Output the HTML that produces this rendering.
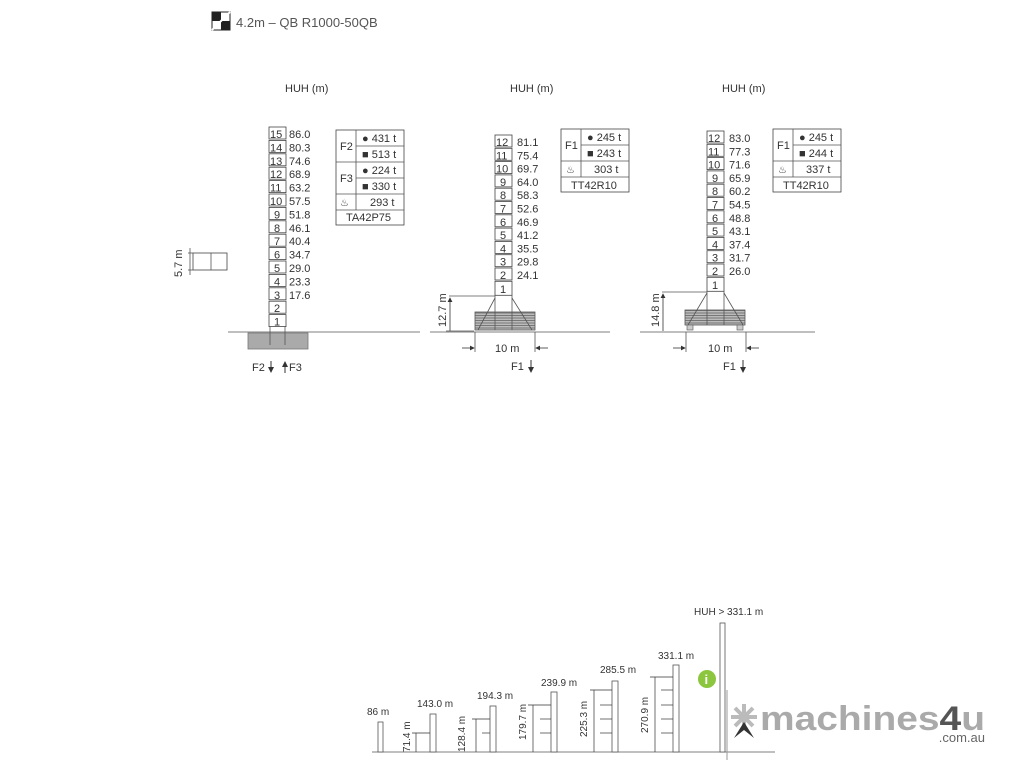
<!DOCTYPE html>
<html><head><meta charset="utf-8"><style>
body{margin:0;background:#fff;}
svg{display:block;font-family:"Liberation Sans","DejaVu Sans",sans-serif;}
text{fill:#333;}
.t{font-size:11px;}
.b{fill:#fff;stroke:#444;stroke-width:0.8;}
.l{stroke:#555;stroke-width:0.8;fill:none;}
</style></head><body>
<svg width="1024" height="768" viewBox="0 0 1024 768">
<defs>
<pattern id="h" width="4" height="2.5" patternUnits="userSpaceOnUse"><rect width="4" height="2.5" fill="#bbb"/><line x1="0" y1="0.5" x2="4" y2="0.5" stroke="#666" stroke-width="0.8"/></pattern>
<marker id="a" markerWidth="6" markerHeight="6" refX="5" refY="3" orient="auto"><path d="M0,0 L6,3 L0,6z" fill="#333"/></marker>
</defs>
<!-- header -->
<rect x="212" y="12" width="18" height="18" fill="#fff" stroke="#222" stroke-width="1"/>
<path d="M212,12 h9 v9 h-9z M221,21 h9 v9 h-9z" fill="#222"/>
<line x1="212" y1="30" x2="230" y2="12" stroke="#fff" stroke-width="2"/>
<text x="236" y="27" style="font-size:13px;fill:#555">4.2m – QB  R1000-50QB</text>

<text x="285" y="92" class="t">HUH (m)</text>
<text x="510" y="92" class="t">HUH (m)</text>
<text x="722" y="92" class="t">HUH (m)</text>

<!-- Tower 1 -->
<g class="t">
<rect class="b" x="269" y="127" width="17" height="12"/><text x="270" y="138">15</text><text x="289" y="138">86.0</text>
<rect class="b" x="269" y="140.4" width="17" height="12"/><text x="270" y="151.4">14</text><text x="289" y="151.4">80.3</text>
<rect class="b" x="269" y="153.8" width="17" height="12"/><text x="270" y="164.8">13</text><text x="289" y="164.8">74.6</text>
<rect class="b" x="269" y="167.2" width="17" height="12"/><text x="270" y="178.2">12</text><text x="289" y="178.2">68.9</text>
<rect class="b" x="269" y="180.6" width="17" height="12"/><text x="270" y="191.6">11</text><text x="289" y="191.6">63.2</text>
<rect class="b" x="269" y="194" width="17" height="12"/><text x="270" y="205">10</text><text x="289" y="205">57.5</text>
<rect class="b" x="269" y="207.4" width="17" height="12"/><text x="274" y="218.4">9</text><text x="289" y="218.4">51.8</text>
<rect class="b" x="269" y="220.8" width="17" height="12"/><text x="274" y="231.8">8</text><text x="289" y="231.8">46.1</text>
<rect class="b" x="269" y="234.2" width="17" height="12"/><text x="274" y="245.2">7</text><text x="289" y="245.2">40.4</text>
<rect class="b" x="269" y="247.6" width="17" height="12"/><text x="274" y="258.6">6</text><text x="289" y="258.6">34.7</text>
<rect class="b" x="269" y="261" width="17" height="12"/><text x="274" y="272">5</text><text x="289" y="272">29.0</text>
<rect class="b" x="269" y="274.4" width="17" height="12"/><text x="274" y="285.4">4</text><text x="289" y="285.4">23.3</text>
<rect class="b" x="269" y="287.8" width="17" height="12"/><text x="274" y="298.8">3</text><text x="289" y="298.8">17.6</text>
<rect class="b" x="269" y="301.2" width="17" height="12"/><text x="274" y="312.2">2</text>
<rect class="b" x="269" y="314.6" width="17" height="12"/><text x="274" y="325.6">1</text>
</g>
<line class="l" x1="228" y1="332" x2="420" y2="332"/>
<rect x="248" y="333" width="60" height="16" fill="#aaa" stroke="#777" stroke-width="0.8"/>
<line class="l" x1="270" y1="327" x2="270" y2="345"/><line class="l" x1="285" y1="327" x2="285" y2="345"/>
<text x="252" y="371" class="t">F2</text>
<line x1="271" y1="361" x2="271" y2="372" stroke="#333" marker-end="url(#a)"/>
<line x1="285" y1="373" x2="285" y2="362" stroke="#333" marker-end="url(#a)"/>
<text x="289" y="371" class="t">F3</text>
<!-- 5.7m -->
<rect class="b" x="193" y="253" width="34" height="17"/><line class="l" x1="211" y1="253" x2="211" y2="270"/>
<line class="l" x1="188" y1="253" x2="193" y2="253"/><line class="l" x1="188" y1="270" x2="193" y2="270"/>
<line class="l" x1="190" y1="248" x2="190" y2="275"/>
<text transform="translate(182,277) rotate(-90)" class="t">5.7 m</text>
<!-- Table 1 -->
<g class="t">
<rect class="b" x="336" y="130" width="68" height="95"/>
<line class="l" x1="356" y1="130" x2="356" y2="210"/>
<line class="l" x1="356" y1="146" x2="404" y2="146"/>
<line class="l" x1="336" y1="162" x2="404" y2="162"/>
<line class="l" x1="356" y1="178" x2="404" y2="178"/>
<line class="l" x1="336" y1="194" x2="404" y2="194"/>
<line class="l" x1="336" y1="210" x2="404" y2="210"/>
<text x="340" y="150">F2</text><text x="340" y="182">F3</text><text x="340" y="206" style="font-size:10px">♨</text>
<text x="362" y="142">● 431 t</text><text x="362" y="158">■ 513 t</text>
<text x="362" y="174">● 224 t</text><text x="362" y="190">■ 330 t</text>
<text x="370" y="206">293 t</text><text x="346" y="221">TA42P75</text>
</g>

<!-- Tower 2 -->
<g class="t">
<rect class="b" x="495" y="135" width="17" height="12"/><text x="496" y="146">12</text><text x="517" y="146">81.1</text>
<rect class="b" x="495" y="148.3" width="17" height="12"/><text x="496" y="159.3">11</text><text x="517" y="159.3">75.4</text>
<rect class="b" x="495" y="161.6" width="17" height="12"/><text x="496" y="172.6">10</text><text x="517" y="172.6">69.7</text>
<rect class="b" x="495" y="174.9" width="17" height="12"/><text x="500" y="185.9">9</text><text x="517" y="185.9">64.0</text>
<rect class="b" x="495" y="188.2" width="17" height="12"/><text x="500" y="199.2">8</text><text x="517" y="199.2">58.3</text>
<rect class="b" x="495" y="201.5" width="17" height="12"/><text x="500" y="212.5">7</text><text x="517" y="212.5">52.6</text>
<rect class="b" x="495" y="214.8" width="17" height="12"/><text x="500" y="225.8">6</text><text x="517" y="225.8">46.9</text>
<rect class="b" x="495" y="228.1" width="17" height="12"/><text x="500" y="239.1">5</text><text x="517" y="239.1">41.2</text>
<rect class="b" x="495" y="241.4" width="17" height="12"/><text x="500" y="252.4">4</text><text x="517" y="252.4">35.5</text>
<rect class="b" x="495" y="254.7" width="17" height="12"/><text x="500" y="265.7">3</text><text x="517" y="265.7">29.8</text>
<rect class="b" x="495" y="268" width="17" height="12"/><text x="500" y="279">2</text><text x="517" y="279">24.1</text>
<rect class="b" x="495" y="281.3" width="17" height="14"/><text x="500" y="293">1</text>
</g>
<line class="l" x1="495" y1="295" x2="495" y2="312"/><line class="l" x1="512" y1="295" x2="512" y2="312"/>
<rect x="475" y="312" width="60" height="18" fill="url(#h)" stroke="#555" stroke-width="0.8"/>
<path class="l" d="M495,298 L478,330 M512,298 L532,330 M495,312 V330 M512,312 V330"/>
<line class="l" x1="430" y1="332" x2="610" y2="332"/>
<line class="l" x1="449" y1="296" x2="495" y2="296"/>
<line x1="450" y1="331" x2="450" y2="298" stroke="#333" stroke-width="0.8" marker-end="url(#a)"/>
<line class="l" x1="446" y1="331" x2="474" y2="331"/>
<text transform="translate(446,327) rotate(-90)" class="t">12.7 m</text>
<line class="l" x1="475" y1="332" x2="475" y2="352"/><line class="l" x1="535" y1="332" x2="535" y2="352"/>
<line x1="462" y1="348" x2="474" y2="348" stroke="#333" stroke-width="0.8" marker-end="url(#a)"/>
<line x1="548" y1="348" x2="536" y2="348" stroke="#333" stroke-width="0.8" marker-end="url(#a)"/>
<text x="495" y="352" class="t">10 m</text>
<text x="511" y="370" class="t">F1</text>
<line x1="531" y1="360" x2="531" y2="372" stroke="#333" marker-end="url(#a)"/>
<g class="t">
<rect class="b" x="561" y="129" width="68" height="63"/>
<line class="l" x1="581" y1="129" x2="581" y2="177"/>
<line class="l" x1="581" y1="145" x2="629" y2="145"/>
<line class="l" x1="561" y1="161" x2="629" y2="161"/>
<line class="l" x1="561" y1="177" x2="629" y2="177"/>
<text x="565" y="149">F1</text><text x="566" y="173" style="font-size:10px">♨</text>
<text x="587" y="141">● 245 t</text><text x="587" y="157">■ 243 t</text>
<text x="594" y="173">303 t</text><text x="571" y="189">TT42R10</text>
</g>

<!-- Tower 3 -->
<g class="t">
<rect class="b" x="707" y="131" width="17" height="12"/><text x="708" y="142">12</text><text x="729" y="142">83.0</text>
<rect class="b" x="707" y="144.3" width="17" height="12"/><text x="708" y="155.3">11</text><text x="729" y="155.3">77.3</text>
<rect class="b" x="707" y="157.6" width="17" height="12"/><text x="708" y="168.6">10</text><text x="729" y="168.6">71.6</text>
<rect class="b" x="707" y="170.9" width="17" height="12"/><text x="712" y="181.9">9</text><text x="729" y="181.9">65.9</text>
<rect class="b" x="707" y="184.2" width="17" height="12"/><text x="712" y="195.2">8</text><text x="729" y="195.2">60.2</text>
<rect class="b" x="707" y="197.5" width="17" height="12"/><text x="712" y="208.5">7</text><text x="729" y="208.5">54.5</text>
<rect class="b" x="707" y="210.8" width="17" height="12"/><text x="712" y="221.8">6</text><text x="729" y="221.8">48.8</text>
<rect class="b" x="707" y="224.1" width="17" height="12"/><text x="712" y="235.1">5</text><text x="729" y="235.1">43.1</text>
<rect class="b" x="707" y="237.4" width="17" height="12"/><text x="712" y="248.4">4</text><text x="729" y="248.4">37.4</text>
<rect class="b" x="707" y="250.7" width="17" height="12"/><text x="712" y="261.7">3</text><text x="729" y="261.7">31.7</text>
<rect class="b" x="707" y="264" width="17" height="12"/><text x="712" y="275">2</text><text x="729" y="275">26.0</text>
<rect class="b" x="707" y="277.3" width="17" height="14"/><text x="712" y="289">1</text>
</g>
<line class="l" x1="707" y1="291" x2="707" y2="310"/><line class="l" x1="724" y1="291" x2="724" y2="310"/>
<rect x="685" y="310" width="60" height="15" fill="url(#h)" stroke="#555" stroke-width="0.8"/>
<rect x="687" y="325" width="6" height="5" fill="#ccc" stroke="#555" stroke-width="0.6"/>
<rect x="737" y="325" width="6" height="5" fill="#ccc" stroke="#555" stroke-width="0.6"/>
<path class="l" d="M707,293 L688,325 M724,293 L743,325 M707,310 V325 M724,310 V325"/>
<line class="l" x1="640" y1="332" x2="815" y2="332"/>
<line class="l" x1="662" y1="292" x2="707" y2="292"/>
<line x1="663" y1="331" x2="663" y2="294" stroke="#333" stroke-width="0.8" marker-end="url(#a)"/>
<text transform="translate(659,327) rotate(-90)" class="t">14.8 m</text>
<line class="l" x1="686" y1="332" x2="686" y2="352"/><line class="l" x1="746" y1="332" x2="746" y2="352"/>
<line x1="673" y1="348" x2="685" y2="348" stroke="#333" stroke-width="0.8" marker-end="url(#a)"/>
<line x1="759" y1="348" x2="747" y2="348" stroke="#333" stroke-width="0.8" marker-end="url(#a)"/>
<text x="708" y="352" class="t">10 m</text>
<text x="723" y="370" class="t">F1</text>
<line x1="743" y1="360" x2="743" y2="372" stroke="#333" marker-end="url(#a)"/>
<g class="t">
<rect class="b" x="773" y="129" width="68" height="63"/>
<line class="l" x1="793" y1="129" x2="793" y2="177"/>
<line class="l" x1="793" y1="145" x2="841" y2="145"/>
<line class="l" x1="773" y1="161" x2="841" y2="161"/>
<line class="l" x1="773" y1="177" x2="841" y2="177"/>
<text x="777" y="149">F1</text><text x="778" y="173" style="font-size:10px">♨</text>
<text x="799" y="141">● 245 t</text><text x="799" y="157">■ 244 t</text>
<text x="806" y="173">337 t</text><text x="783" y="189">TT42R10</text>
</g>

<!-- Bottom chart -->
<line class="l" x1="372" y1="752" x2="775" y2="752"/>
<g fill="#fff" stroke="#555" stroke-width="0.8">
<rect x="378" y="722" width="5" height="30"/>
<rect x="430" y="714" width="6" height="38"/>
<rect x="490" y="706" width="6" height="46"/>
<rect x="551" y="692" width="6" height="60"/>
<rect x="612" y="681" width="6" height="71"/>
<rect x="673" y="665" width="6" height="87"/>
<rect x="720" y="623" width="5" height="129"/>
</g>
<g style="font-size:10px">
<text x="367" y="715">86 m</text>
<text x="417" y="707">143.0 m</text>
<text x="477" y="699">194.3 m</text>
<text x="541" y="686">239.9 m</text>
<text x="600" y="673">285.5 m</text>
<text x="658" y="659">331.1 m</text>
<text x="694" y="615">HUH &gt; 331.1 m</text>
</g>
<g stroke="#333" stroke-width="0.7">
<line x1="416" y1="733" x2="416" y2="752"/><line x1="412" y1="733" x2="430" y2="733"/>
<line x1="476" y1="719" x2="476" y2="752"/><line x1="472" y1="719" x2="490" y2="719"/><line x1="482" y1="733" x2="490" y2="733"/>
<line x1="533" y1="705" x2="533" y2="752"/><line x1="528" y1="705" x2="551" y2="705"/><line x1="540" y1="719" x2="551" y2="719"/><line x1="540" y1="733" x2="551" y2="733"/>
<line x1="594" y1="690" x2="594" y2="752"/><line x1="590" y1="690" x2="612" y2="690"/><line x1="600" y1="705" x2="612" y2="705"/><line x1="600" y1="719" x2="612" y2="719"/><line x1="600" y1="733" x2="612" y2="733"/>
<line x1="655" y1="677" x2="655" y2="752"/><line x1="650" y1="677" x2="673" y2="677"/><line x1="661" y1="690" x2="673" y2="690"/><line x1="661" y1="705" x2="673" y2="705"/><line x1="661" y1="719" x2="673" y2="719"/><line x1="661" y1="733" x2="673" y2="733"/>
</g>
<g style="font-size:10px">
<text transform="translate(410,752) rotate(-90)">71.4 m</text>
<text transform="translate(465,752) rotate(-90)">128.4 m</text>
<text transform="translate(526,740) rotate(-90)">179.7 m</text>
<text transform="translate(587,737) rotate(-90)">225.3 m</text>
<text transform="translate(648,733) rotate(-90)">270.9 m</text>
</g>
<circle cx="707" cy="679" r="9" fill="#8cc63f"/>
<text x="704.5" y="684" style="font-size:13px;font-weight:bold;fill:#fff">i</text>

<!-- logo -->
<line x1="727" y1="690" x2="727" y2="760" stroke="#999"/>
<g stroke="#bbb" stroke-width="4"><line x1="744" y1="704" x2="744" y2="730"/><line x1="731" y1="717" x2="757" y2="717"/><line x1="735" y1="708" x2="753" y2="726"/><line x1="753" y1="708" x2="735" y2="726"/></g>
<path d="M744,722 L734,738 L744,730 L754,738z" fill="#333"/>
<text x="760" y="730" textLength="225" lengthAdjust="spacingAndGlyphs" style="font-size:34px;font-weight:bold;fill:#aaa">machines<tspan style="fill:#555">4</tspan><tspan>u</tspan></text>
<text x="985" y="742" text-anchor="end" style="font-size:13px;fill:#666">.com.au</text>
</svg>
</body></html>
